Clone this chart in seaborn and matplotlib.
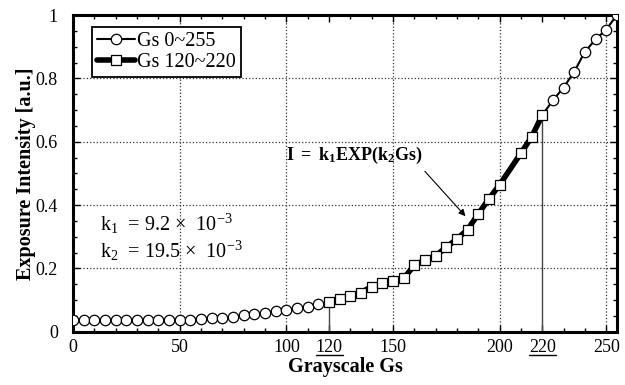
import numpy as np
import pandas as pd
import matplotlib
matplotlib.use('Agg')
import matplotlib.pyplot as plt
import matplotlib.ticker as mticker
from matplotlib.lines import Line2D
import seaborn as sns

# grayscale steps and measured exposure intensity (whole range)
gs_all = [0, 5, 10, 15, 20, 25, 30, 35, 40, 45, 50, 55, 60, 65, 70, 75, 80,
          85, 90, 95, 100, 105, 110, 115, 120, 125, 130, 135, 140, 145, 150,
          155, 160, 165, 170, 175, 180, 185, 190, 195, 200, 210, 215, 220,
          225, 230, 235, 240, 245, 250, 255]
intensity_all = [0.036, 0.036, 0.036, 0.036, 0.036, 0.036, 0.036, 0.036,
                 0.036, 0.036, 0.037, 0.038, 0.040, 0.043, 0.045, 0.048,
                 0.052, 0.056, 0.061, 0.065, 0.070, 0.075, 0.080, 0.087,
                 0.095, 0.103, 0.114, 0.124, 0.143, 0.154, 0.159, 0.169,
                 0.210, 0.227, 0.240, 0.267, 0.293, 0.323, 0.372, 0.420,
                 0.464, 0.564, 0.615, 0.684, 0.731, 0.771, 0.821, 0.884,
                 0.923, 0.954, 1.000]

# fitted window
gs_win = [120, 125, 130, 135, 140, 145, 150, 155, 160, 165, 170, 175, 180,
          185, 190, 195, 200, 210, 215, 220]
intensity_win = [0.095, 0.103, 0.114, 0.124, 0.143, 0.154, 0.159, 0.169,
                 0.210, 0.227, 0.240, 0.267, 0.293, 0.323, 0.372, 0.420,
                 0.464, 0.564, 0.615, 0.684]

x_ticks = [0, 50, 100, 120, 150, 200, 220, 250]
x_tick_labels = ['0', '50', '100', '120', '150', '200', '220', '250']
underlined = ['120', '220']
y_ticks = [0, 0.2, 0.4, 0.6, 0.8, 1.0]
y_tick_labels = ['0', '0.2', '0.4', '0.6', '0.8', '1']


def main():
    sns.set_style('ticks')
    plt.rcParams['font.family'] = ['Liberation Serif', 'DejaVu Serif']
    plt.rcParams['text.color'] = 'black'
    plt.rcParams['axes.labelcolor'] = 'black'
    plt.rcParams['mathtext.fontset'] = 'custom'
    plt.rcParams['mathtext.rm'] = 'Liberation Serif'
    plt.rcParams['mathtext.it'] = 'Liberation Serif'
    plt.rcParams['mathtext.bf'] = 'Liberation Serif:bold'

    df_all = pd.DataFrame({'Gs': gs_all, 'I': intensity_all})
    df_win = pd.DataFrame({'Gs': gs_win, 'I': intensity_win})

    fig, ax = plt.subplots(figsize=(6.25, 3.85), dpi=100)
    fig.subplots_adjust(left=0.117, right=0.987, bottom=0.138, top=0.961)

    # circles only outside the fitted window
    mask = [(g < 120 or g > 220) for g in gs_all]
    sns.lineplot(data=df_all, x='Gs', y='I', ax=ax, color='black', lw=1.5,
                 marker='o', markersize=7.5, markerfacecolor='white',
                 markeredgecolor='black', markeredgewidth=0.9,
                 markevery=mask, label='Gs 0~255', zorder=3)
    sns.lineplot(data=df_win, x='Gs', y='I', ax=ax, color='black', lw=4,
                 marker='s', markersize=7.5, markerfacecolor='white',
                 markeredgecolor='black', markeredgewidth=0.9,
                 label='Gs 120~220', zorder=4)

    # drop lines at the window edges
    edges = df_win.iloc[[0, -1]]
    ax.vlines(edges['Gs'], 0, edges['I'], color='#444444', lw=1, zorder=2)

    ax.set_xlim(0, 255)
    ax.set_ylim(0, 1)
    ax.set_xticks(x_ticks)
    ax.set_xticklabels(x_tick_labels)
    ax.set_yticks(y_ticks)
    ax.set_yticklabels(y_tick_labels)
    ax.xaxis.set_minor_locator(mticker.MultipleLocator(10))
    ax.yaxis.set_minor_locator(mticker.MultipleLocator(0.05))
    ax.tick_params(which='both', direction='in', top=True, right=True,
                   width=1, labelsize=13, colors='black')
    ax.tick_params(which='major', length=5)
    ax.tick_params(which='minor', length=3)
    ax.tick_params(axis='x', pad=5)
    ax.tick_params(axis='y', pad=11)

    ax.grid(True, which='major', ls=':', lw=0.9, color='#333333')
    for i, t in enumerate(x_ticks):
        if t in (0, 120, 220):
            ax.get_xgridlines()[i].set_visible(False)
    ax.get_ygridlines()[0].set_visible(False)
    ax.get_ygridlines()[-1].set_visible(False)

    for s in ax.spines.values():
        s.set_linewidth(2.2)
        s.set_color('black')

    ax.set_xlabel('Grayscale Gs', fontsize=14.5, fontweight='bold', labelpad=1)
    ax.set_ylabel('Exposure Intensity [a.u.]', fontsize=14.5,
                  fontweight='bold', labelpad=0)

    ax.annotate(r'$\mathbf{I\ =\ k_1EXP(k_2Gs)}$', xy=(184, 0.365),
                xytext=(132, 0.557), ha='center', va='center', fontsize=13,
                arrowprops=dict(arrowstyle='-|>', color='black', lw=0.8,
                                relpos=(0.98, 0.0), shrinkA=2, shrinkB=0,
                                mutation_scale=10))
    ax.text(12.5, 0.34, r'k$_1$  = 9.2 $\times$  10$^{-3}$', fontsize=14.5,
            va='center')
    ax.text(12.5, 0.255, r'k$_2$  = 19.5 $\times$  10$^{-3}$', fontsize=14.5,
            va='center')

    leg = ax.legend(loc='upper left', bbox_to_anchor=(0.035, 0.962),
                    fontsize=14.5, handlelength=1.9, handletextpad=0.1,
                    borderaxespad=0, borderpad=0.25, labelspacing=0.1,
                    fancybox=False, framealpha=1, edgecolor='black')
    leg.get_frame().set_linewidth(1.3)

    # underline the window-edge tick labels
    fig.canvas.draw()
    for lab in ax.get_xticklabels():
        if lab.get_text() in underlined:
            bb = lab.get_window_extent()
            y = bb.y0 + 1
            fig.add_artist(Line2D([bb.x0 / fig.bbox.width, bb.x1 / fig.bbox.width],
                                  [y / fig.bbox.height, y / fig.bbox.height],
                                  color='black', lw=1, transform=fig.transFigure))

    plt.savefig('out.png', dpi=100)


if __name__ == '__main__':
    main()
